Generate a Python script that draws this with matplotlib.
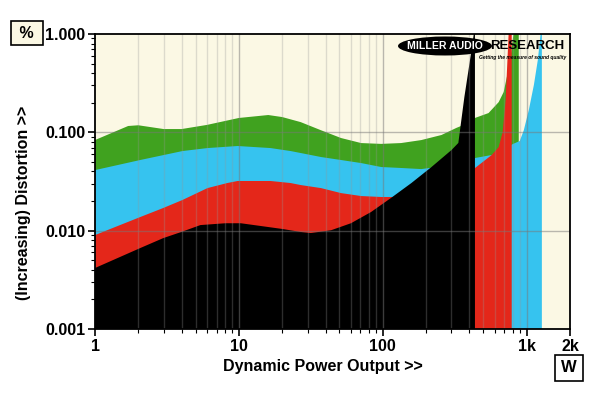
import numpy as np
import matplotlib
matplotlib.use("Agg")
import matplotlib.pyplot as plt
from matplotlib.patches import Ellipse
from matplotlib.ticker import FixedLocator, NullFormatter

plt.rcParams['font.family'] = ['Liberation Sans', 'DejaVu Sans']

# power (W) vs distortion (%) for each load
green_p = [1, 1.7, 2, 3, 4, 6, 10, 16, 20, 26.9, 37.2, 51.3, 70.7, 97.4, 134, 185, 256, 325,
           370, 437, 543, 639, 692, 762, 813, 881]
green_d = [0.0835, 0.116, 0.118, 0.108, 0.108, 0.119, 0.14, 0.150, 0.143, 0.127, 0.105, 0.0875,
           0.0778, 0.0763, 0.0778, 0.0834, 0.094, 0.111, 0.12, 0.14, 0.157, 0.203, 0.257, 0.5,
           1.05, 1.05]

blue_p = [1, 2.06, 4.05, 6.05, 9.8, 16.6, 22.9, 26.9, 37.2, 51.3, 70.7, 97.4, 134, 185, 256,
          350, 437, 571, 639, 727, 800, 895, 955, 1035, 1122, 1195, 1254, 1275]
blue_d = [0.0413, 0.0523, 0.0645, 0.0692, 0.0726, 0.0692, 0.0645, 0.0616, 0.0561, 0.0523,
          0.0487, 0.0444, 0.0434, 0.0423, 0.045, 0.048, 0.0548, 0.0588, 0.063, 0.069, 0.076,
          0.0816, 0.105, 0.169, 0.303, 0.544, 1.05, 1.05]

red_p = [1, 2.06, 2.98, 4.05, 6.05, 8.3, 9.8, 16.6, 22.9, 26.9, 37.2, 51.3, 70.7, 97.4, 128,
         200, 300, 400, 437, 571, 639, 681, 714, 750, 787]
red_d = [0.00902, 0.01375, 0.0170, 0.0205, 0.0271, 0.0305, 0.032, 0.032, 0.0305, 0.0291, 0.0271,
         0.0241, 0.0225, 0.0220, 0.022, 0.028, 0.035, 0.042, 0.0433, 0.0588, 0.0709, 0.1007,
         0.213, 1.05, 1.05]

black_p = [1, 2.06, 2.98, 3.98, 5.4, 8.07, 10.3, 20.1, 26.9, 31.6, 43.7, 60.1, 83, 114, 158,
           218, 300, 335, 369, 401, 431, 437]
black_d = [0.00417, 0.00665, 0.0084, 0.0097, 0.0114, 0.0119, 0.0119, 0.0104, 0.0097, 0.00946,
           0.0101, 0.0119, 0.0155, 0.0215, 0.0305, 0.0444, 0.066, 0.078, 0.229, 0.507, 1.05, 1.05]

x_ticks = [1, 10, 100, 1000, 2000]
x_labels = ["1", "10", "100", "1k", "2k"]
y_ticks = [0.001, 0.01, 0.1, 1.0]
y_labels = ["0.001", "0.010", "0.100", "1.000"]

fig = plt.figure(figsize=(6.0, 3.93), dpi=100)
ax = fig.add_axes([95 / 600, 1 - 329 / 393, 475 / 600, 295 / 393])
ax.set_facecolor("#fbf8e4")

series = [(green_p, green_d, "#40a21f"),
          (blue_p, blue_d, "#36c3ef"),
          (red_p, red_d, "#e4271a"),
          (black_p, black_d, "#000000")]
for p, d, c in series:
    ax.fill_between(p, 1e-4, d, color=c, lw=0, zorder=2)

ax.set_xscale("log")
ax.set_yscale("log")
ax.set_xlim(1, 2000)
ax.set_ylim(0.001, 1.0)

# grid drawn over the fills, faint
minor_x = [m * 10 ** e for e in range(0, 4) for m in range(2, 10) if m * 10 ** e < 2000]
for xv in minor_x:
    ax.axvline(xv, color="#969696", lw=1.0, alpha=0.3, zorder=3)
for xv in [10, 100, 1000]:
    ax.axvline(xv, color="#787878", lw=1.0, alpha=0.5, zorder=3)
for yv in [0.01, 0.1]:
    ax.axhline(yv, color="#787878", lw=1.0, alpha=0.5, zorder=3)

ax.xaxis.set_major_locator(FixedLocator(x_ticks))
ax.set_xticklabels(x_labels)
ax.xaxis.set_minor_locator(FixedLocator(minor_x))
ax.xaxis.set_minor_formatter(NullFormatter())
ax.yaxis.set_major_locator(FixedLocator(y_ticks))
ax.set_yticklabels(y_labels)
ax.yaxis.set_minor_locator(FixedLocator([m * 10 ** e for e in (-3, -2, -1) for m in range(2, 10)]))
ax.yaxis.set_minor_formatter(NullFormatter())

ax.tick_params(which="major", length=5, width=1.2, labelsize=11.5, pad=2)
ax.tick_params(which="minor", length=3, width=0.8)
for lab in ax.get_xticklabels() + ax.get_yticklabels():
    lab.set_fontweight("bold")
for s in ax.spines.values():
    s.set_linewidth(1.3)
    s.set_zorder(5)

fig.text(323 / 600, 1 - 366 / 393, "Dynamic Power Output >>", ha="center", va="center",
         fontsize=11.5, fontweight="bold")
fig.text(24 / 600, 1 - 203 / 393, "(Increasing) Distortion >>", ha="center", va="center",
         rotation=90, fontsize=11.5, fontweight="bold")

fig.text(27 / 600, 1 - 33 / 393, " % ", ha="center", va="center", fontsize=11.5, fontweight="bold",
         bbox=dict(boxstyle="square,pad=0.3", fc="#fbf8e4", ec="black", lw=1.2))
fig.text(569 / 600, 1 - 368 / 393, "W", ha="center", va="center", fontsize=12, fontweight="bold",
         bbox=dict(boxstyle="square,pad=0.35", fc="white", ec="black", lw=1.2))

# logo
ax.add_patch(Ellipse(((445 - 95) / 475, (329 - 46) / 295), 94 / 475, 19 / 295,
                     transform=ax.transAxes, fc="black", ec="none", zorder=6))
ax.text((445 - 95) / 475, (329 - 46) / 295, "MILLER AUDIO", transform=ax.transAxes,
        ha="center", va="center", color="white", fontsize=7.6, fontweight="heavy", zorder=7)
ax.text((490 - 95) / 475, (329 - 46) / 295, "RESEARCH", transform=ax.transAxes,
        ha="left", va="center", color="black", fontsize=9.5, fontweight="heavy", zorder=7)
ax.text((566 - 95) / 475, (329 - 57) / 295, "Getting the measure of sound quality",
        transform=ax.transAxes, ha="right", va="center", color="black", fontsize=3.6,
        fontweight="bold", style="italic", zorder=7)

fig.savefig("out.png", dpi=100)
